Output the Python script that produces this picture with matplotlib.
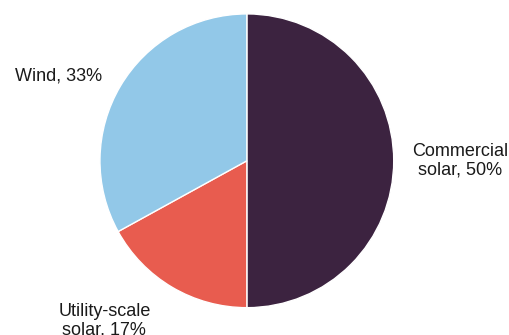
import matplotlib
matplotlib.use("Agg")
import matplotlib.pyplot as plt

# data
labels = ["Commercial\nsolar, 50%", "Utility-scale\nsolar, 17%", "Wind, 33%"]
shares = [50, 17, 33]
colors = ["#3C2340", "#E85C4F", "#92C8E8"]

plt.rcParams['font.family'] = ['Liberation Sans', 'DejaVu Sans']

fig = plt.figure(figsize=(5.10, 3.35), dpi=100)
ax = fig.add_axes([0.196, 0.081, 0.576, 0.878])

wedges, _ = ax.pie(shares, colors=colors, startangle=90, counterclock=False,
                   radius=1, wedgeprops=dict(edgecolor="white", linewidth=1))
ax.set_xlim(-1, 1)
ax.set_ylim(-1, 1)
ax.set_aspect("equal")

# label positions (data coords, radius = 1)
label_pos = [(1.45, 0.0), (-0.97, -1.09), (-1.28, 0.58)]
for (x, y), lab in zip(label_pos, labels):
    ax.text(x, y, lab, ha="center", va="center", fontsize=13,
            color="#1a1a1a", clip_on=False, linespacing=1.15)

fig.savefig("out.png", dpi=100)
